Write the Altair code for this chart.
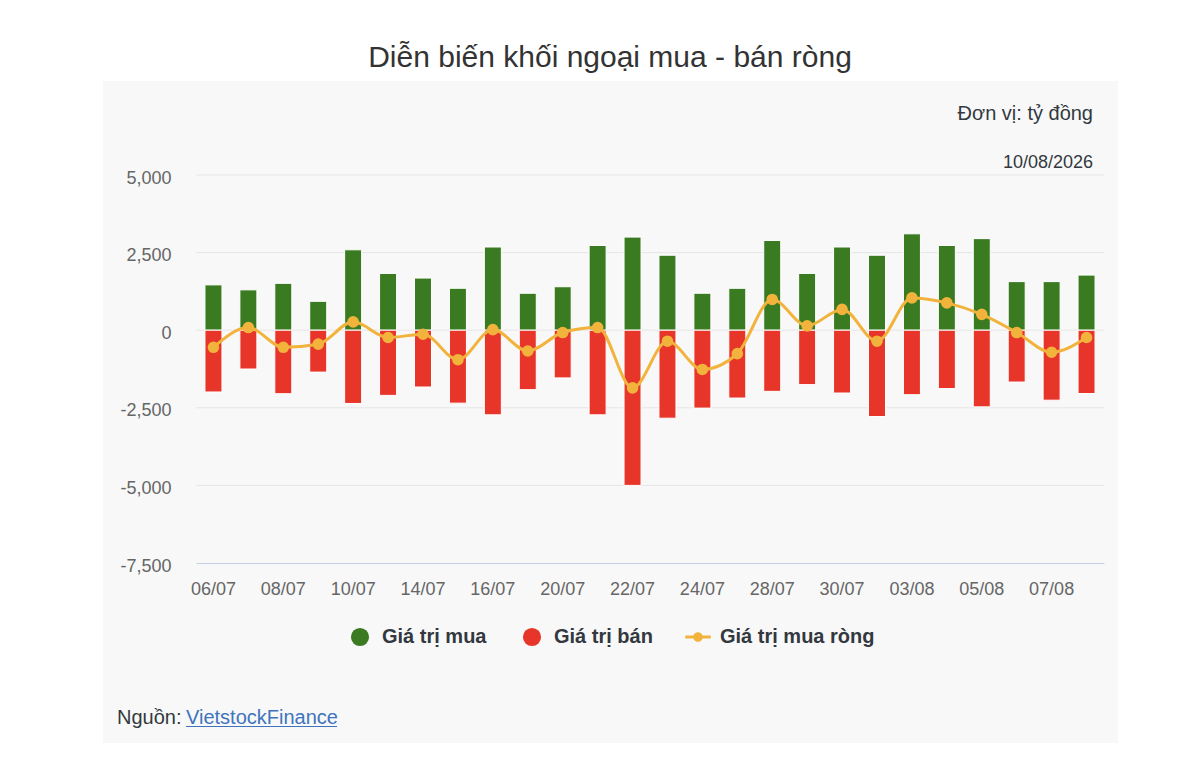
import altair as alt
import pandas as pd

# ---------------- data ----------------
dates = ["06/07", "07/07", "08/07", "09/07", "10/07", "13/07", "14/07", "15/07",
         "16/07", "17/07", "20/07", "21/07", "22/07", "23/07", "24/07", "27/07",
         "28/07", "29/07", "30/07", "31/07", "03/08", "04/08", "05/08", "06/08",
         "07/08", "10/08"]
buy_values = [1460, 1300, 1510, 930, 2590, 1830, 1680, 1350, 2680, 1190,
              1400, 2730, 3000, 2415, 1190, 1350, 2890, 1830, 2680, 2415,
              3105, 2730, 2950, 1565, 1565, 1775]
sell_values = [-1990, -1250, -2045, -1350, -2360, -2100, -1830, -2350, -2727, -1915,
               -1537, -2727, -5000, -2835, -2510, -2186, -1970, -1753, -2024, -2781,
               -2078, -1880, -2470, -1670, -2255, -2040]
net_values = [-550, 85, -550, -450, 270, -235, -130, -950, 20, -670,
              -75, 85, -1860, -355, -1265, -755, 990, 140, 670, -355,
              1040, 880, 510, -75, -710, -235]
x_tick_labels = dates[::2]
y_tick_values = [-7500, -5000, -2500, 0, 2500, 5000]
grid_values = [-5000, -2500, 0, 2500, 5000]

S_BUY = "Giá trị mua"
S_SELL = "Giá trị bán"
S_NET = "Giá trị mua ròng"

TITLE = "Diễn biến khối ngoại mua - bán ròng"
UNIT = "Đơn vị: tỷ đồng"
DATE_NOTE = "10/08/2026"
SRC_LABEL = "Nguồn:"
SRC_LINK = "VietstockFinance"

# ---------------- styling ----------------
FONT = "Liberation Sans"
GREEN = "#3a7b22"
RED = "#e8352a"
ORANGE = "#f2b33d"
PANEL = "#f8f8f8"
DARK = "#333840"

bars_df = pd.DataFrame({
    "date": dates * 2,
    "series": [S_BUY] * len(dates) + [S_SELL] * len(dates),
    "value": buy_values + sell_values,
})
net_df = pd.DataFrame({"date": dates, "series": [S_NET] * len(dates), "value": net_values})
grid_df = pd.DataFrame({"v": grid_values})
one = pd.DataFrame({"k": [0]})

x_enc = alt.X(
    "date:N", sort=dates, title=None,
    scale=alt.Scale(paddingInner=0, paddingOuter=0),
    axis=alt.Axis(values=x_tick_labels, labelAngle=0, grid=False, ticks=False, tickSize=0,
                  domain=True, domainColor="#c5d0e6", domainWidth=1.2, zindex=1,
                  labelFont=FONT, labelFontSize=18, labelColor="#666666",
                  labelBaseline="alphabetic", labelPadding=31),
)
y_scale = alt.Scale(domain=[-7500, 5000], nice=False, zero=False)
y_axis = alt.Axis(values=y_tick_values, grid=False, zindex=1,
                  domain=False, ticks=False, tickSize=0, labelPadding=25,
                  labelFont=FONT, labelFontSize=18, labelColor="#666666", labelOffset=3,
                  labelExpr="replace(format(datum.value, ','), '\u2212', '-')", title=None)

panel = alt.Chart(one).mark_rect(color=PANEL).encode(
    x=alt.value(-93), x2=alt.value(922), y=alt.value(-94), y2=alt.value(570)
)

grid = alt.Chart(grid_df).mark_rule(color="#e6e6e6", strokeWidth=1).encode(
    y=alt.Y("v:Q", scale=y_scale, axis=y_axis),
)

bars = alt.Chart(bars_df).mark_bar(size=17, stroke="white", strokeWidth=1).encode(
    x=x_enc,
    y=alt.Y("value:Q", scale=y_scale, axis=y_axis, stack=None),
    color=alt.Color(
        "series:N",
        scale=alt.Scale(domain=[S_BUY, S_SELL], range=[GREEN, RED]),
        legend=alt.Legend(title=None, orient="none", legendX=154, legendY=452,
                          direction="horizontal", columns=2, symbolType="circle",
                          symbolSize=330, symbolStrokeWidth=0, symbolOpacity=1,
                          labelFont=FONT, labelFontSize=20, labelFontWeight="bold",
                          labelColor=DARK, labelOffset=12, columnPadding=35, padding=0),
    ),
)

line = alt.Chart(net_df).mark_line(color=ORANGE, strokeWidth=3, interpolate="monotone").encode(
    x=alt.X("date:N", sort=dates),
    y=alt.Y("value:Q", scale=y_scale),
)

LINE_DOT = ("M-1.8,-0.21H1.8V0.21H-1.8Z "
            "M0.68,0A0.68,0.68 0 1 1 -0.68,0A0.68,0.68 0 1 1 0.68,0Z")

points = alt.Chart(net_df).mark_point(filled=True, size=135, opacity=1, shape="circle").encode(
    x=alt.X("date:N", sort=dates),
    y=alt.Y("value:Q", scale=y_scale),
    color=alt.Color(
        "series:N",
        scale=alt.Scale(domain=[S_NET], range=[ORANGE]),
        legend=alt.Legend(title=None, orient="none", legendX=492, legendY=452,
                          symbolType=LINE_DOT, symbolSize=200, symbolStrokeWidth=0,
                          symbolOpacity=1,
                          labelFont=FONT, labelFontSize=20, labelFontWeight="bold",
                          labelColor=DARK, labelOffset=12, padding=0),
    ),
)

title_txt = alt.Chart(one).mark_text(text=TITLE, font=FONT, fontSize=30, color="#333333",
                                     align="center", baseline="alphabetic").encode(
    x=alt.value(414), y=alt.value(-108.5))
unit_txt = alt.Chart(one).mark_text(text=UNIT, font=FONT, fontSize=20, color=DARK,
                                    align="right", baseline="alphabetic").encode(
    x=alt.value(897), y=alt.value(-55))
date_txt = alt.Chart(one).mark_text(text=DATE_NOTE, font=FONT, fontSize=18, color=DARK,
                                    align="right", baseline="alphabetic").encode(
    x=alt.value(897), y=alt.value(-7))
src_txt = alt.Chart(one).mark_text(text=SRC_LABEL, font=FONT, fontSize=20, color=DARK,
                                   align="left", baseline="alphabetic").encode(
    x=alt.value(-79), y=alt.value(549))
link_txt = alt.Chart(one).mark_text(text=SRC_LINK, font=FONT, fontSize=20, color="#3e74bd",
                                    align="left", baseline="alphabetic").encode(
    x=alt.value(-10), y=alt.value(549))
link_rule = alt.Chart(one).mark_rule(color="#3e74bd", strokeWidth=1.2).encode(
    x=alt.value(-10), x2=alt.value(141), y=alt.value(551.5))

chart = alt.layer(
    panel, grid, bars, line, points, title_txt, unit_txt, date_txt, src_txt, link_txt, link_rule
).resolve_scale(color="independent").properties(
    width=908, height=388,
    autosize=alt.AutoSizeParams(type="none"),
    padding={"left": 188, "top": 167, "right": 88, "bottom": 180},
    background="white",
).configure_view(stroke=None, fill=None)

chart.save("out.html", embed_options={"renderer": "svg", "actions": False})
